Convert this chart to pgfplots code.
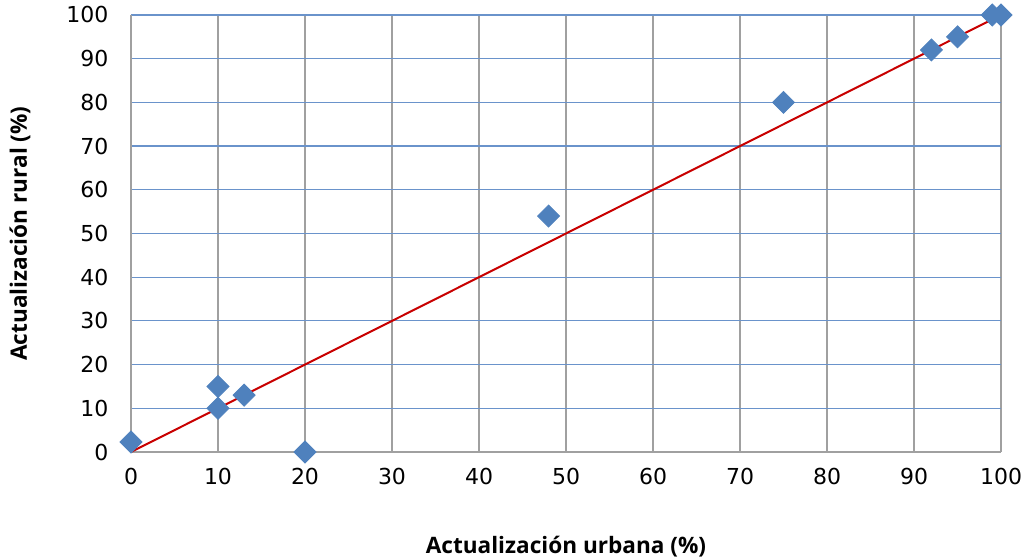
\documentclass[border=0pt]{standalone}
\usepackage{fontspec}
\setmainfont{DejaVu Sans}
\newfontfamily\labelfont{Open Sans}
\usepackage{pgfplots}
\pgfplotsset{compat=1.18}
\definecolor{ptblue}{HTML}{4F81BD}
\definecolor{hgrid}{HTML}{6A93CB}
\definecolor{vgrid}{HTML}{A0A0A0}
\definecolor{fitred}{HTML}{C80000}
\begin{document}
\begin{tikzpicture}
	\useasboundingbox (-65.5pt,-54pt) rectangle (447.5pt,226pt);
	\begin{axis}[
			scale only axis,
			width=435pt, height=218.5pt,
			xmin=0, xmax=100, ymin=0, ymax=100,
			xtick={0,10,...,100}, ytick={0,10,...,100},
			major tick length=0pt,
			axis x line*=bottom, axis y line*=left,
			axis line style={vgrid, line width=0.6pt, -},
			xmajorgrids, ymajorgrids,
			x grid style={vgrid, line width=0.6pt},
			y grid style={hgrid, line width=0.6pt},
			tick label style={font=\fontsize{11}{13}\selectfont},
			/pgf/number format/assume math mode=true,
			xticklabel style={yshift=-4.5pt},
			yticklabel style={xshift=-7.8pt},
			xlabel={Actualización urbana (\%)},
			ylabel={Actualización rural (\%)},
			label style={font=\labelfont\bfseries\fontsize{11.3}{13}\selectfont},
			xlabel style={at={(axis description cs:0.5,-0.2174)}, anchor=center},
			ylabel style={at={(axis description cs:-0.1276,0.5)}, anchor=center},
			clip=false
		]
		\addplot[fitred, line width=1pt] coordinates {(0,0) (100,100)};
		\addplot[only marks, mark=square*, mark size=3.9pt,
			mark options={rotate=45, fill=ptblue, draw=ptblue}] coordinates {
				(0,2.3) (10,15) (10,10) (13,13) (20,0) (48,54)
				(75,80) (92,92) (95,95) (99,100) (100,100)
			};
	\end{axis}
\end{tikzpicture}
\end{document}
